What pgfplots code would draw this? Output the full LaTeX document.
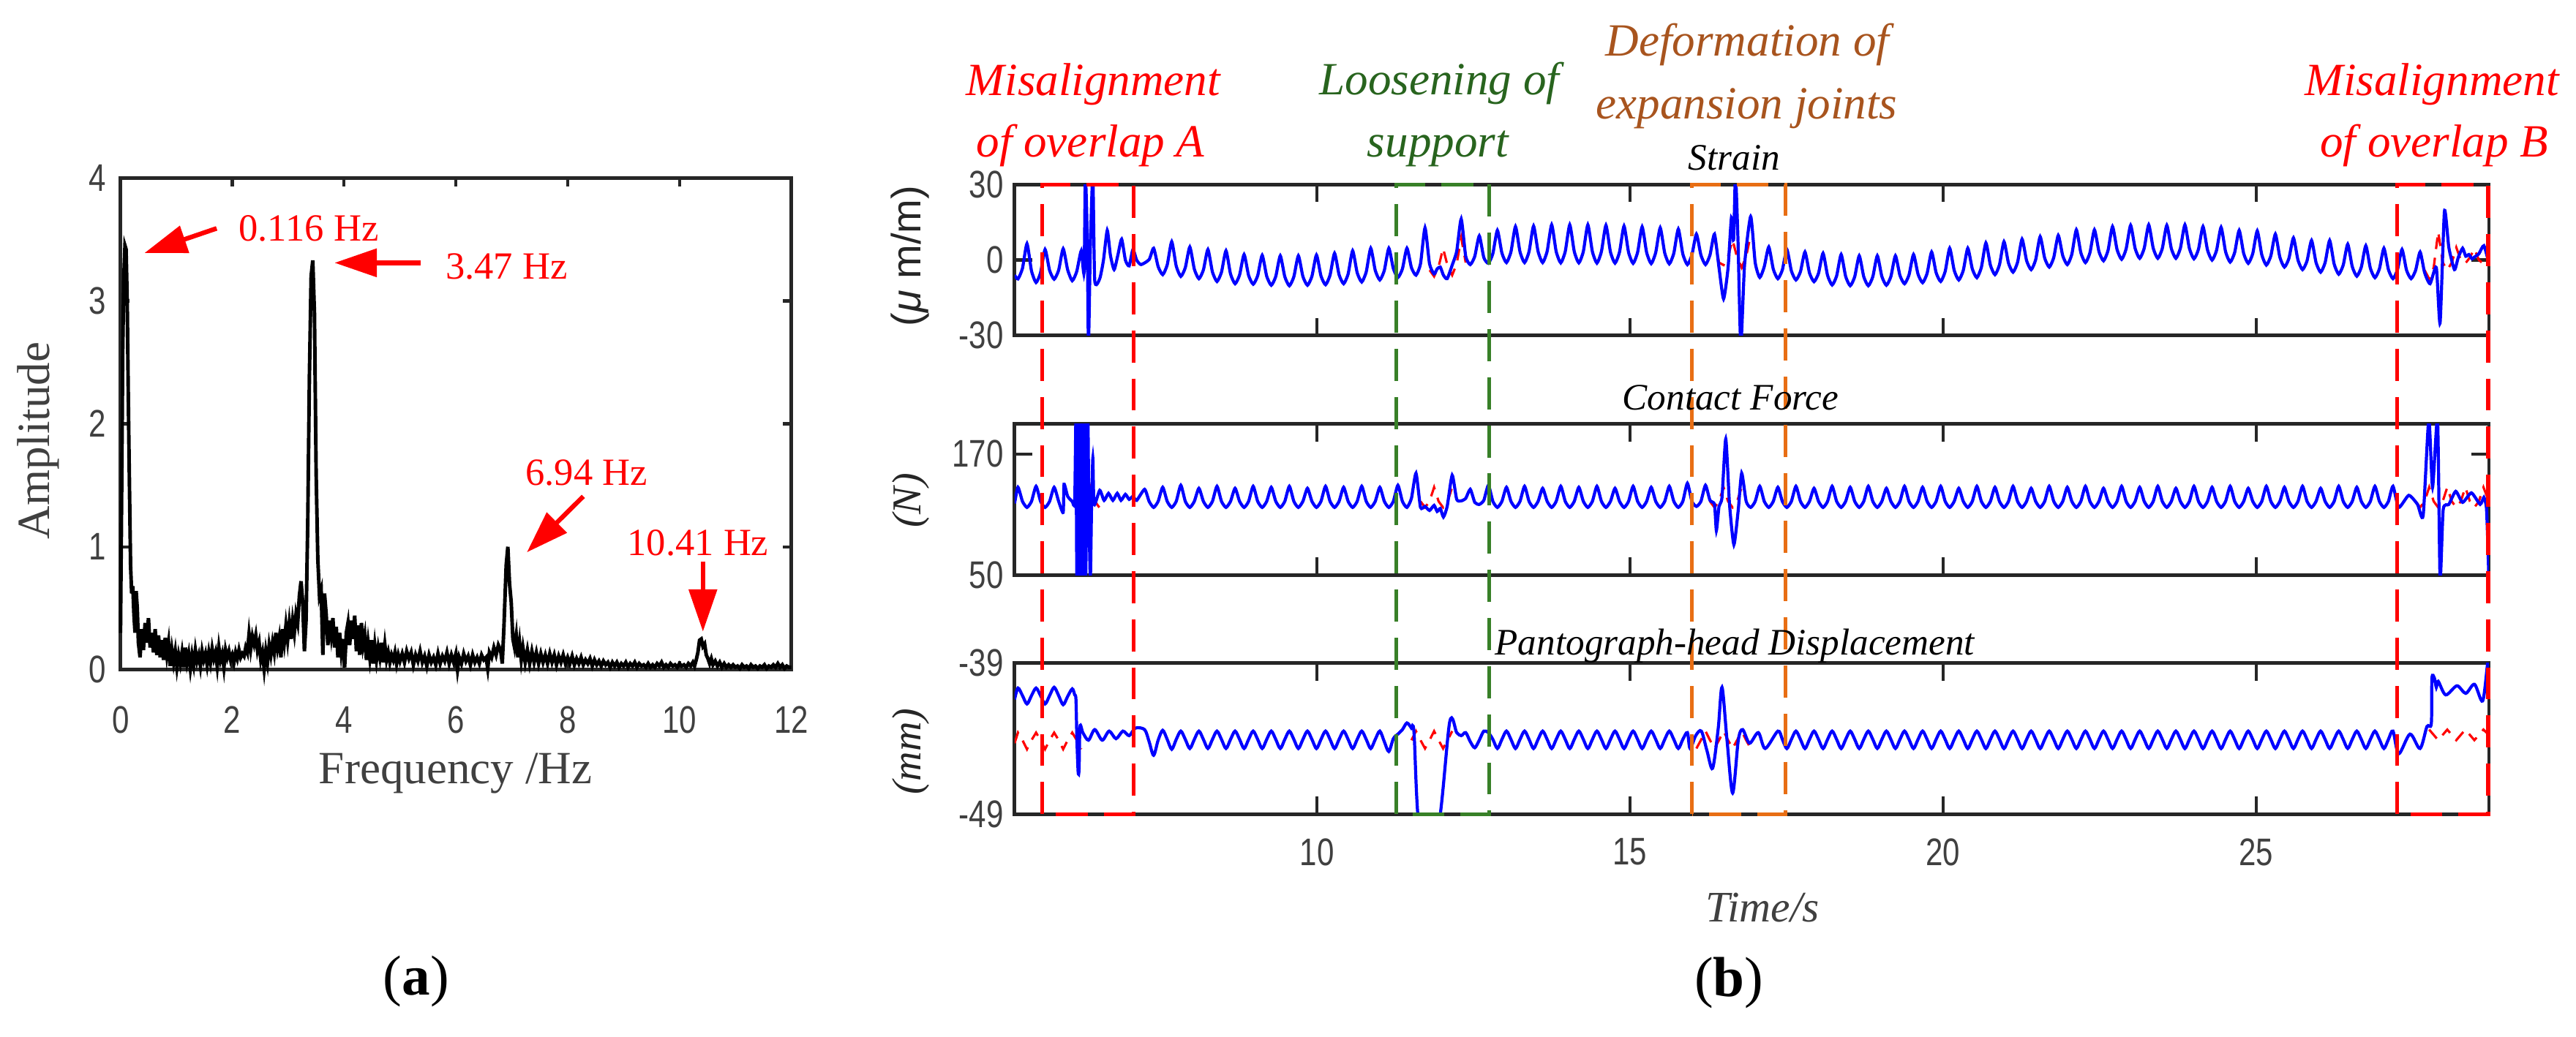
\documentclass[border=0pt]{standalone}
\usepackage{fontspec}
\setmainfont{Liberation Serif}
\setsansfont{Liberation Sans}
\newfontfamily\tickfont[FakeStretch=0.8]{Liberation Sans}
\usepackage{pgfplots}
\usepackage{pgfplotstable}
\pgfplotsset{compat=1.18}
\usetikzlibrary{arrows.meta}

\definecolor{axgray}{RGB}{38,38,38}
\definecolor{labgray}{RGB}{64,64,64}
\definecolor{boxgreen}{RGB}{56,128,40}
\definecolor{txtgreen}{RGB}{40,100,30}
\definecolor{boxorange}{RGB}{232,110,20}
\definecolor{txtbrown}{RGB}{168,84,30}

% time signals: strain (s), contact force (f), pantograph-head displacement (d)
\pgfplotstableread{
t s f d
5.170 -6.0 121 -41.4
5.224 -7.5 137 -40.65
5.296 -3.3 123 -41.15
5.368 6.5 117 -41.7
5.440 -4.3 123 -41.15
5.513 -8.9 138 -40.65
5.585 -5.0 123 -41.15
5.657 4.2 117 -41.7
5.729 -4.1 123 -41.15
5.802 -7.6 137 -40.6
5.874 -4.0 123 -41.15
5.946 4.5 112 -41.75
5.960 nan 140 nan
6.018 -3.9 128 -41.2
6.091 -8.2 123 -40.7
6.130 nan 122 -41.1
6.150 nan 205 -41.4
6.163 -4.5 nan nan
6.165 nan 45 -44.0
6.185 nan nan -46.2
6.190 nan 205 nan
6.200 nan nan -46.0
6.205 nan 45 nan
6.215 nan nan -43.2
6.235 3.7 nan nan
6.240 nan 205 nan
6.255 nan 45 nan
6.260 nan nan -43.6
6.280 -5.0 nan nan
6.290 nan 205 nan
6.300 34 nan nan
6.305 nan 45 nan
6.330 10 nan nan
6.340 nan 205 nan
6.350 -34 nan -44.1
6.355 nan 120 nan
6.380 5 45 nan
6.400 nan 120 nan
6.420 34 166 nan
6.440 nan 120 nan
6.450 -8 nan -43.4
6.530 -7.4 134 nan
6.570 nan nan -44.1
6.590 0 nan nan
6.600 nan 124 nan
6.650 11.8 nan nan
6.670 nan 131 nan
6.680 nan nan -43.5
6.700 2 nan nan
6.740 nan 124 nan
6.760 -3.8 nan nan
6.790 nan nan -44.0
6.810 nan 131 nan
6.820 2 nan nan
6.870 nan 124 nan
6.880 8.3 nan nan
6.900 nan nan -43.5
6.940 0 130 nan
7.000 -2.3 125 -43.8
7.060 4.2 128 nan
7.100 nan nan -43.3
7.120 0 124 nan
7.190 -1.8 nan nan
7.247 nan 135 -43.4
7.319 0.2 123 -44.2
7.391 4.7 117 -45.1
7.463 -2.6 123 -44.1
7.536 -5.8 137 -43.45
7.608 -1.9 123 -44.05
7.680 7.3 117 -44.7
7.752 -2.4 123 -44.05
7.825 -6.5 139 -43.5
7.897 -3.0 123 -44.05
7.969 5.2 117 -44.65
8.041 -3.6 123 -44.05
8.114 -7.4 136 -43.5
8.186 -3.9 123 -44.05
8.258 4.2 117 -44.65
8.330 -4.7 123 -44.05
8.403 -8.5 138 -43.5
8.475 -4.8 123 -44.05
8.547 3.7 117 -44.65
8.619 -5.5 123 -44.05
8.692 -9.4 136 -43.5
8.764 -5.9 123 -44.05
8.836 2.2 117 -44.65
8.908 -6.1 123 -44.05
8.981 -9.6 138 -43.5
9.053 -6.2 123 -44.05
9.125 1.9 117 -44.65
9.197 -6.4 123 -44.05
9.270 -10.0 137 -43.5
9.342 -6.5 123 -44.05
9.414 1.7 117 -44.65
9.486 -6.6 123 -44.05
9.559 -10.2 138 -43.5
9.631 -6.6 123 -44.05
9.703 1.7 117 -44.65
9.775 -6.5 123 -44.05
9.848 -10.0 136 -43.5
9.920 -6.4 123 -44.05
9.992 2.0 117 -44.65
10.064 -6.3 123 -44.05
10.137 -9.8 138 -43.5
10.209 -6.0 123 -44.05
10.281 2.7 117 -44.65
10.353 -5.8 123 -44.05
10.426 -9.4 137 -43.5
10.498 -5.5 123 -44.05
10.570 3.7 117 -44.65
10.642 -5.0 123 -44.05
10.715 -8.7 138 -43.5
10.787 -4.7 123 -44.05
10.859 4.7 117 -44.65
10.931 -4.1 123 -44.05
11.004 -7.9 137 -43.5
11.076 -4.1 123 -44.2
11.148 4.7 117 -44.85
11.220 -3.4 123 -44.0
11.293 -6.9 139 -43.7
11.365 -3.5 123 -43.4
11.437 4.7 117 -42.96
11.509 -3.0 126 -43.3
11.550 nan nan -43.6
11.582 -6.0 151 nan
11.640 nan nan -50
11.654 -1.5 117 nan
11.726 12.8 118 nan
11.798 -1.5 114 nan
11.871 -5.5 119 nan
11.920 -3.5 113 nan
11.930 nan nan -50
11.970 -2.8 116 nan
12.020 -6.0 107.5 nan
12.080 -7.4 118 nan
12.120 nan nan -42.9
12.160 -2.0 149 nan
12.232 3.5 125 -43.6
12.304 16.3 123.5 -43.8
12.376 1.5 126 -43.6
12.449 -1.8 135 -44.2
12.521 1.5 122 -44.6
12.593 9.6 120 -44.1
12.665 1.0 124 -43.5
12.738 -1.3 139 -43.6
12.810 2.6 123 -44.05
12.882 11.8 117 -44.65
12.954 2.8 123 -44.05
13.027 -1.0 137 -43.5
13.099 3.3 123 -44.05
13.171 13.3 117 -44.65
13.243 3.3 123 -44.05
13.316 -1.0 138 -43.5
13.388 3.4 123 -44.05
13.460 13.5 117 -44.65
13.532 3.4 123 -44.05
13.605 -1.0 136 -43.5
13.677 3.5 123 -44.05
13.749 14.0 117 -44.65
13.821 3.4 123 -44.05
13.894 -1.1 138 -43.5
13.966 3.4 123 -44.05
14.038 14.0 117 -44.65
14.110 3.4 123 -44.05
14.183 -1.1 137 -43.5
14.255 3.4 123 -44.05
14.327 14.0 117 -44.65
14.399 3.4 123 -44.05
14.472 -1.2 138 -43.5
14.544 3.4 123 -44.05
14.616 13.8 117 -44.65
14.688 3.2 123 -44.05
14.761 -1.2 136 -43.5
14.833 3.2 123 -44.05
14.905 13.5 117 -44.65
14.977 3.1 123 -44.05
15.050 -1.3 138 -43.5
15.122 3.1 123 -44.05
15.194 13.2 117 -44.65
15.266 3.0 123 -44.05
15.339 -1.4 137 -43.5
15.411 3.0 123 -44.05
15.483 12.8 117 -44.65
15.555 2.8 123 -44.05
15.628 -1.5 138 -43.5
15.700 2.7 123 -44.05
15.772 12.3 117 -44.65
15.844 2.4 123 -44.05
15.917 -1.8 141 -43.6
15.960 nan nan -44.65
15.989 2.0 123 nan
16.050 nan nan -43.8
16.061 10.3 118 nan
16.133 2.0 123 nan
16.140 nan nan -43.5
16.206 -1.8 139 nan
16.230 nan nan -44.8
16.278 2.0 124 nan
16.320 nan nan -45.96
16.350 10.3 120 nan
16.380 nan 94 nan
16.410 nan nan -43.3
16.422 -3.0 118 nan
16.470 nan 127 -40.6
16.495 -15.4 nan nan
16.530 nan 185 nan
16.550 nan nan -44.1
16.567 -3.0 nan nan
16.590 nan 120 nan
16.620 16.8 nan nan
16.640 nan nan -47.6
16.655 8 nan nan
16.660 nan 80 nan
16.685 34 nan nan
16.725 8 nan nan
16.730 nan 115 -44.1
16.770 -34 nan nan
16.784 nan 151 nan
16.800 nan nan -43.4
16.830 -2 nan nan
16.856 nan 123 nan
16.910 nan nan -44.3
16.928 17.3 117 nan
17.000 -1.0 123 nan
17.050 nan nan -43.6
17.073 -6.9 138 nan
17.145 -2.6 123 nan
17.160 nan nan -44.65
17.217 5.2 117 nan
17.289 -3.6 123 nan
17.362 -7.4 137 -43.5
17.434 -3.9 123 -44.05
17.506 4.2 117 -44.65
17.578 -4.3 123 -44.05
17.651 -7.9 138 -43.5
17.723 -4.6 123 -44.05
17.795 3.2 117 -44.65
17.867 -5.1 123 -44.05
17.940 -8.6 136 -43.5
18.012 -5.2 123 -44.05
18.084 2.7 117 -44.65
18.156 -6.1 123 -44.05
18.229 -9.9 138 -43.5
18.301 -6.3 123 -44.05
18.373 2.2 117 -44.65
18.445 -6.5 123 -44.05
18.518 -10.2 137 -43.5
18.590 -6.6 123 -44.05
18.662 1.7 117 -44.65
18.734 -6.6 123 -44.05
18.807 -10.2 138 -43.5
18.879 -6.6 123 -44.05
18.951 1.7 117 -44.65
19.023 -6.5 123 -44.05
19.096 -10.0 136 -43.5
19.168 -6.5 123 -44.05
19.240 1.7 117 -44.65
19.312 -6.1 123 -44.05
19.385 -9.4 138 -43.5
19.457 -5.9 123 -44.05
19.529 2.2 117 -44.65
19.601 -5.6 123 -44.05
19.674 -9.0 137 -43.5
19.746 -5.3 123 -44.05
19.818 3.2 117 -44.65
19.890 -5.0 123 -44.05
19.963 -8.5 138 -43.5
20.035 -4.5 123 -44.05
20.107 4.7 117 -44.65
20.179 -4.1 123 -44.05
20.252 -7.9 136 -43.5
20.324 -4.1 123 -44.05
20.396 4.7 117 -44.65
20.468 -3.5 123 -44.05
20.541 -7.0 138 -43.5
20.613 -2.9 123 -44.05
20.685 6.8 117 -44.65
20.757 -2.0 123 -44.05
20.830 -5.8 137 -43.5
20.902 -1.9 123 -44.05
20.974 7.3 117 -44.65
21.046 -1.2 123 -44.05
21.119 -4.8 138 -43.5
21.191 -0.9 123 -44.05
21.263 8.3 117 -44.65
21.335 -0.2 123 -44.05
21.408 -3.8 136 -43.5
21.480 0.1 123 -44.05
21.552 9.3 117 -44.65
21.624 0.8 123 -44.05
21.697 -2.8 138 -43.5
21.769 1.0 123 -44.05
21.841 9.8 117 -44.65
21.913 1.7 123 -44.05
21.986 -1.8 137 -43.5
22.058 2.3 123 -44.05
22.130 12.0 117 -44.65
22.202 2.9 123 -44.05
22.275 -1.0 138 -43.5
22.347 2.9 123 -44.05
22.419 12.0 117 -44.65
22.491 3.4 123 -44.05
22.564 -0.3 136 -43.5
22.636 3.8 123 -44.05
22.708 13.3 117 -44.65
22.780 4.2 123 -44.05
22.853 0.3 138 -43.5
22.925 4.4 123 -44.05
22.997 13.8 117 -44.65
23.069 4.6 123 -44.05
23.142 0.7 137 -43.5
23.214 4.7 123 -44.05
23.286 14.0 117 -44.65
23.358 4.7 123 -44.05
23.431 0.7 138 -43.5
23.503 4.6 123 -44.05
23.575 13.8 117 -44.65
23.647 4.6 123 -44.05
23.720 0.7 136 -43.5
23.792 4.7 123 -44.05
23.864 14.0 117 -44.65
23.936 4.6 123 -44.05
24.009 0.5 138 -43.5
24.081 4.3 123 -44.05
24.153 13.3 117 -44.65
24.225 4.0 123 -44.05
24.298 0.0 137 -43.5
24.370 3.9 123 -44.05
24.442 13.0 117 -44.65
24.514 3.3 123 -44.05
24.587 -0.8 138 -43.5
24.659 3.0 123 -44.05
24.731 11.8 117 -44.65
24.803 2.6 123 -44.05
24.876 -1.3 136 -43.5
24.948 2.6 123 -44.05
25.020 11.6 117 -44.65
25.092 2.1 123 -44.05
25.165 -2.0 138 -43.5
25.237 1.7 123 -44.05
25.309 10.3 117 -44.65
25.381 1.1 123 -44.05
25.454 -2.8 137 -43.5
25.526 0.7 123 -44.05
25.598 8.8 117 -44.65
25.670 0.0 123 -44.05
25.743 -3.8 138 -43.5
25.815 -0.3 123 -44.05
25.887 7.8 117 -44.65
25.959 -1.0 123 -44.05
26.032 -4.8 136 -43.5
26.104 -1.0 123 -44.05
26.176 7.8 117 -44.65
26.248 -1.6 123 -44.05
26.321 -5.6 138 -43.5
26.393 -2.0 123 -44.05
26.465 6.3 117 -44.65
26.537 -2.6 123 -44.05
26.610 -6.4 137 -43.5
26.682 -2.8 123 -44.05
26.754 5.7 117 -44.65
26.826 -3.2 123 -44.05
26.899 -7.0 138 -43.5
26.971 -3.5 123 -44.05
27.043 4.7 117 -44.65
27.115 -3.8 123 -44.05
27.188 -7.4 138 -43.5
27.260 -3.8 nan nan
27.280 nan 117 -45.0
27.332 4.2 nan nan
27.404 -4.0 nan nan
27.440 nan 129 nan
27.460 nan nan -43.7
27.477 -7.4 nan nan
27.549 -4.1 nan nan
27.580 nan 120 nan
27.620 nan nan -44.65
27.621 3.2 nan nan
27.670 nan 109 nan
27.693 -5.0 nan nan
27.730 nan nan -43.2
27.760 nan 205 nan
27.780 -9.4 nan nan
27.800 nan nan -43.0
27.810 nan nan -40.0
27.820 nan 137 nan
27.850 nan nan -40.0
27.880 -3.0 nan -40.6
27.900 nan 205 nan
27.910 nan nan -40.2
27.940 -25 45 nan
27.990 nan 115 nan
28.010 19.4 nan nan
28.030 nan nan -41.1
28.080 5.0 120 nan
28.170 -3.8 nan nan
28.190 nan 133 nan
28.210 nan nan -40.5
28.230 1.0 nan nan
28.300 4.7 122 nan
28.350 1.5 nan -41.0
28.400 2.2 nan nan
28.440 nan 131.5 nan
28.450 0.5 nan nan
28.490 1.2 nan -40.4
28.560 2.5 nan nan
28.580 nan 120 nan
28.620 nan nan -41.5
28.640 5.7 127 nan
28.680 nan 117 nan
28.700 nan 86 -39.0
28.720 -1.3 45 -39.0
}\sig

\pgfplotsset{
  bpanel/.style={scale only axis, width=101mm, height=10.35mm, anchor=south west,
    xmin=5.17, xmax=28.72, xtick={10,15,20,25}, xticklabels={},
    tick align=inside, major tick length=1.2mm,
    axis line style={axgray, line width=0.7pt},
    tick style={axgray, line width=0.6pt},
    ticklabel style={font=\tickfont\fontsize{7.5}{8}\selectfont, text=labgray},
    yticklabel style={xshift=0.48mm},
    xticklabel style={yshift=-0.42mm}},
  blueline/.style={blue, line width=0.6pt, smooth, tension=0.35},
  redline/.style={red, line width=0.45pt, dash pattern=on 0.8mm off 0.6mm},
}

\begin{document}
\begin{tikzpicture}[x=1mm,y=1mm]
\path (0,0) rectangle (176.05,71.05);

% ---------- (a) spectrum ----------
\begin{axis}[at={(8.05mm,25.15mm)}, anchor=south west, scale only axis,
  width=45.95mm, height=33.7mm, xmin=0, xmax=12, ymin=0, ymax=4,
  xtick={0,2,...,12}, ytick={0,1,2,3,4},
  xticklabels={0,2,4,6,8,10,12}, yticklabels={0,1,2,3,4},
  tick align=inside, major tick length=0.6mm,
  axis line style={axgray, line width=0.7pt},
  tick style={axgray, line width=0.6pt},
  ticklabel style={font=\tickfont\fontsize{7.5}{8}\selectfont, text=labgray},
  xticklabel style={yshift=-1.27mm}, yticklabel style={xshift=0.23mm},
  clip=false]
\addplot[black, line width=0.7pt] coordinates {
(0.00,0.30)(0.02,1.40)(0.04,2.60)(0.06,3.20)(0.08,3.45)(0.10,3.42)(0.12,3.00)(0.14,2.20)
(0.16,1.50)(0.18,0.85)(0.20,0.62)(0.22,0.68)(0.24,0.45)(0.26,0.30)(0.28,0.64)(0.30,0.50)
(0.32,0.22)(0.35,0.10)(0.38,0.33)(0.41,0.16)(0.44,0.38)(0.47,0.22)(0.50,0.42)(0.53,0.18)
(0.56,0.30)(0.59,0.14)(0.62,0.33)(0.65,0.12)(0.68,0.28)(0.71,0.10)(0.74,0.24)(0.77,0.08)
(0.80,0.26)(0.83,0.12)(0.86,0.22)(0.89,0.03)(0.92,0.16)(0.95,0.06)(0.98,0.15)(1.01,0.02)
(1.04,0.12)(1.07,0.05)(1.10,0.14)(1.13,0.02)(1.16,0.18)(1.19,0.06)(1.22,0.13)(1.25,0.01)
(1.28,0.12)(1.31,0.04)(1.34,0.16)(1.37,0.07)(1.40,0.12)(1.43,0.03)(1.46,0.15)(1.49,0.08)
(1.52,0.13)(1.55,0.04)(1.58,0.14)(1.61,0.06)(1.64,0.17)(1.67,0.09)(1.70,0.14)(1.73,0.03)
(1.76,0.18)(1.79,0.08)(1.82,0.13)(1.85,0.02)(1.88,0.16)(1.91,0.10)(1.94,0.15)(1.97,0.08)
(2.00,0.12)(2.03,0.06)(2.06,0.14)(2.09,0.09)(2.12,0.16)(2.15,0.10)(2.18,0.13)(2.21,0.11)
(2.24,0.18)(2.27,0.14)(2.30,0.29)(2.33,0.17)(2.36,0.27)(2.39,0.21)(2.42,0.28)(2.45,0.16)
(2.48,0.22)(2.51,0.08)(2.54,0.14)(2.57,0.01)(2.60,0.15)(2.63,0.06)(2.66,0.20)(2.69,0.12)
(2.72,0.22)(2.75,0.14)(2.78,0.30)(2.81,0.18)(2.84,0.26)(2.87,0.10)(2.90,0.33)(2.93,0.22)
(2.96,0.36)(2.99,0.24)(3.02,0.38)(3.05,0.25)(3.08,0.40)(3.11,0.30)(3.14,0.45)(3.17,0.38)
(3.20,0.60)(3.23,0.72)(3.26,0.55)(3.29,0.15)(3.32,0.40)(3.35,1.20)(3.38,2.40)(3.41,3.20)
(3.44,3.33)(3.47,2.90)(3.50,1.60)(3.53,0.90)(3.56,0.60)(3.59,0.65)(3.62,0.12)(3.65,0.62)
(3.68,0.45)(3.71,0.20)(3.74,0.40)(3.77,0.28)(3.80,0.42)(3.83,0.18)(3.86,0.35)(3.89,0.10)
(3.92,0.30)(3.95,0.14)(3.98,0.25)(4.01,0.02)(4.04,0.30)(4.07,0.38)(4.10,0.20)(4.13,0.40)
(4.16,0.25)(4.19,0.44)(4.22,0.15)(4.25,0.36)(4.28,0.12)(4.31,0.38)(4.34,0.20)(4.37,0.28)
(4.40,0.08)(4.43,0.22)(4.46,0.10)(4.49,0.24)(4.52,0.05)(4.55,0.20)(4.58,0.08)(4.61,0.18)
(4.64,0.10)(4.67,0.22)(4.70,0.06)(4.73,0.20)(4.76,0.08)(4.79,0.14)(4.82,0.06)(4.85,0.12)
(4.88,0.08)(4.91,0.14)(4.94,0.05)(4.97,0.12)(5.00,0.07)(5.04,0.13)(5.08,0.06)(5.12,0.15)
(5.16,0.09)(5.20,0.14)(5.24,0.04)(5.28,0.12)(5.32,0.07)(5.36,0.15)(5.40,0.06)(5.44,0.11)
(5.48,0.03)(5.52,0.12)(5.56,0.06)(5.60,0.10)(5.64,0.04)(5.68,0.13)(5.72,0.05)(5.76,0.11)
(5.80,0.07)(5.84,0.14)(5.88,0.05)(5.92,0.12)(5.96,0.06)(6.00,0.13)(6.03,0.00)(6.06,0.10)
(6.10,0.05)(6.14,0.13)(6.18,0.07)(6.22,0.11)(6.26,0.04)(6.30,0.12)(6.34,0.06)(6.38,0.10)
(6.42,0.05)(6.46,0.12)(6.50,0.08)(6.54,0.10)(6.57,0.01)(6.60,0.14)(6.64,0.10)(6.68,0.18)
(6.72,0.12)(6.76,0.20)(6.80,0.16)(6.83,0.05)(6.86,0.35)(6.90,0.85)(6.93,1.00)(6.96,0.70)
(6.99,0.55)(7.02,0.25)(7.05,0.18)(7.08,0.28)(7.11,0.10)(7.14,0.22)(7.17,0.08)(7.20,0.18)
(7.24,0.06)(7.28,0.16)(7.32,0.05)(7.36,0.15)(7.40,0.06)(7.44,0.14)(7.48,0.05)(7.52,0.13)
(7.56,0.06)(7.60,0.12)(7.64,0.05)(7.68,0.13)(7.72,0.06)(7.76,0.12)(7.80,0.04)(7.84,0.11)
(7.88,0.06)(7.92,0.12)(7.96,0.05)(8.00,0.10)(8.04,0.05)(8.08,0.11)(8.12,0.04)(8.16,0.09)
(8.20,0.05)(8.24,0.10)(8.28,0.04)(8.32,0.08)(8.36,0.05)(8.40,0.09)(8.44,0.03)(8.48,0.08)
(8.52,0.04)(8.56,0.07)(8.60,0.03)(8.64,0.07)(8.68,0.04)(8.72,0.06)(8.76,0.02)(8.80,0.06)
(8.84,0.03)(8.88,0.06)(8.92,0.02)(8.96,0.05)(9.00,0.03)(9.04,0.06)(9.08,0.02)(9.12,0.05)
(9.16,0.03)(9.20,0.06)(9.24,0.02)(9.28,0.05)(9.32,0.03)(9.36,0.04)(9.40,0.02)(9.44,0.05)
(9.48,0.02)(9.52,0.04)(9.56,0.02)(9.60,0.05)(9.64,0.03)(9.68,0.06)(9.72,0.02)(9.76,0.04)
(9.80,0.02)(9.84,0.05)(9.88,0.03)(9.92,0.04)(9.96,0.02)(10.00,0.05)(10.04,0.03)(10.08,0.04)
(10.12,0.02)(10.16,0.05)(10.20,0.03)(10.24,0.06)(10.27,0.03)(10.30,0.08)(10.33,0.14)(10.36,0.24)
(10.39,0.25)(10.42,0.19)(10.45,0.21)(10.48,0.12)(10.51,0.09)(10.54,0.05)(10.57,0.09)(10.60,0.04)
(10.64,0.07)(10.68,0.03)(10.72,0.06)(10.76,0.02)(10.80,0.05)(10.84,0.02)(10.88,0.04)(10.92,0.02)
(10.96,0.04)(11.00,0.02)(11.04,0.03)(11.08,0.01)(11.12,0.04)(11.16,0.02)(11.20,0.03)(11.24,0.01)
(11.28,0.04)(11.32,0.02)(11.36,0.03)(11.40,0.01)(11.44,0.03)(11.48,0.02)(11.52,0.04)(11.56,0.01)
(11.60,0.03)(11.64,0.02)(11.68,0.04)(11.72,0.02)(11.76,0.05)(11.80,0.02)(11.84,0.04)(11.88,0.01)
(11.92,0.03)(11.96,0.02)(12.00,0.02)
};
\begin{scope}[red, line width=0.9pt, -{Triangle[length=2.9mm,width=1.9mm]}]
\draw (axis cs:1.72,3.59) -- (axis cs:0.43,3.39);
\draw (axis cs:5.37,3.31) -- (axis cs:3.83,3.31);
\draw (axis cs:8.28,1.41) -- (axis cs:7.27,0.955);
\draw (axis cs:10.42,0.88) -- (axis cs:10.42,0.31);
\end{scope}
\begin{scope}[every node/.style={text=red, anchor=west, inner sep=0pt, font=\rmfamily\fontsize{7.5}{8}\selectfont}]
\node at (axis cs:2.10,3.59) {0.116 Hz};
\node at (axis cs:5.80,3.28) {3.47 Hz};
\node at (axis cs:7.23,1.60) {6.94 Hz};
\node at (axis cs:9.05,1.03) {10.41 Hz};
\end{scope}
\end{axis}

\node[rotate=90, text=labgray, font=\rmfamily\fontsize{9}{10}\selectfont] at (2.4,40.85) {Amplitude};
\node[anchor=base, text=labgray, font=\rmfamily\fontsize{9}{10}\selectfont] at (31.0,17.35) {Frequency /Hz};
\node[font=\rmfamily\fontsize{11}{12}\selectfont] at (28.3,3.8) {(\textbf{a})};

% ---------- (b) strain ----------
\begin{axis}[bpanel, at={(69.3mm,48.05mm)}, ymin=-30, ymax=30,
  ytick={-30,0,30}, yticklabels={-30,0,30}]
\addplot[redline] coordinates {(11.80,-4)(11.871,-6.5)(11.943,-2.6)(12.015,4.7)(12.087,-2.4)(12.160,-6.0)(12.232,-1.5)(12.304,8.8)(12.376,-1.0)};
\addplot[redline] coordinates {(16.350,9)(16.422,-1)(16.495,-2.0)(16.567,1.5)(16.639,8)(16.711,1)(16.784,-3)(16.856,1.5)(16.928,10)};
\addplot[redline] coordinates {(27.693,-4)(27.766,-7.5)(27.838,-3)(27.910,11.3)(27.982,-1)(28.055,-4)(28.127,-1)(28.199,5)(28.271,0)(28.344,-1.3)(28.416,1)(28.488,4.5)(28.560,0)(28.633,-1.5)(28.72,1)};
\addplot[blueline] table[x=t, y=s] {\sig};
\end{axis}

% ---------- (b) contact force ----------
\begin{axis}[bpanel, at={(69.3mm,31.65mm)}, ymin=50, ymax=200,
  ytick={50,170}, yticklabels={50,170}]
\addplot[redline] coordinates {(6.163,123)(6.235,117)(6.307,123)(6.380,137)(6.452,123)(6.524,117)};
\addplot[redline] coordinates {(11.654,123)(11.726,117)(11.798,123)(11.871,137)(11.943,123)(12.015,117)(12.087,123)(12.160,137)};
\addplot[redline] coordinates {(16.278,123)(16.350,117)(16.422,123)(16.495,137)(16.567,123)(16.639,117)(16.711,123)(16.784,137)};
\addplot[redline] coordinates {(27.549,123)(27.621,117)(27.693,123)(27.766,137)(27.838,123)(27.910,117)(27.982,123)(28.055,137)(28.127,123)(28.199,117)(28.271,123)(28.344,137)(28.416,123)(28.488,117)(28.560,123)(28.633,137)(28.72,123)};
\addplot[blueline] table[x=t, y=f] {\sig};
\end{axis}

% ---------- (b) pantograph-head displacement ----------
\begin{axis}[bpanel, at={(69.3mm,15.25mm)}, ymin=-49, ymax=-39,
  ytick={-49,-39}, yticklabels={-49,-39}, xticklabels={10,15,20,25}]
\addplot[redline] coordinates {(5.170,-44.3)(5.224,-43.6)(5.296,-44.1)(5.368,-44.7)(5.440,-44.1)(5.513,-43.6)(5.585,-44.1)(5.657,-44.7)(5.729,-44.1)(5.802,-43.6)(5.874,-44.1)(5.946,-44.7)(6.018,-44.1)(6.091,-43.6)(6.163,-44.1)(6.235,-44.7)};
\addplot[redline] coordinates {(11.509,-44.1)(11.582,-43.5)(11.654,-44.1)(11.726,-44.65)(11.798,-44.1)(11.871,-43.5)(11.943,-44.1)(12.015,-44.65)(12.087,-44.1)(12.160,-43.5)};
\addplot[redline] coordinates {(16.061,-44.65)(16.133,-44.1)(16.206,-43.5)(16.278,-44.1)(16.350,-44.65)(16.422,-44.1)(16.495,-43.5)(16.567,-44.1)(16.639,-44.65)(16.711,-44.1)(16.784,-43.5)(16.856,-44.1)(16.928,-44.65)(17.000,-44.5)};
\addplot[redline] coordinates {(27.766,-43.4)(27.838,-43.75)(27.910,-44.1)(27.982,-43.75)(28.055,-43.4)(28.127,-43.75)(28.199,-44.1)(28.271,-43.75)(28.344,-43.4)(28.416,-43.75)(28.488,-44.1)(28.560,-43.75)(28.633,-43.4)(28.720,-43.75)};
\addplot[blueline, tension=0.5] table[x=t, y=d] {\sig};
\end{axis}

% ---------- fault windows ----------
\begin{axis}[at={(69.3mm,15.25mm)}, anchor=south west, scale only axis,
  width=101mm, height=43.15mm, xmin=5.17, xmax=28.72, ymin=0, ymax=1,
  hide axis, clip=false]
\begin{scope}[line width=0.75pt, dash pattern=on 2.2mm off 1.1mm]
\draw[red] (axis cs:5.61,0) rectangle (axis cs:7.07,1);
\draw[boxgreen] (axis cs:11.27,0) rectangle (axis cs:12.75,1);
\draw[boxorange] (axis cs:15.99,0) rectangle (axis cs:17.48,1);
\draw[red] (axis cs:27.25,0) rectangle (axis cs:28.71,1);
\end{scope}
\end{axis}

% titles and labels of (b)
\begin{scope}[every node/.style={anchor=base, font=\rmfamily\itshape\fontsize{7.3}{8}\selectfont, text=black}]
\node at (118.6,59.4) {Strain};
\node at (118.35,42.95) {Contact Force};
\node at (118.65,26.15) {Pantograph-head Displacement};
\end{scope}
\begin{scope}[every node/.style={anchor=base, font=\rmfamily\itshape\fontsize{9}{10}\selectfont}]
\node[text=red] at (74.7,64.5) {Misalignment};
\node[text=red] at (74.5,60.3) {of overlap A};
\node[text=txtgreen] at (98.4,64.55) {Loosening of};
\node[text=txtgreen] at (98.3,60.3) {support};
\node[text=txtbrown] at (119.5,67.2) {Deformation of};
\node[text=txtbrown] at (119.45,62.9) {expansion joints};
\node[text=red] at (166.4,64.5) {Misalignment};
\node[text=red] at (166.55,60.3) {of overlap B};
\end{scope}
\node[rotate=90, text=axgray, font=\sffamily\fontsize{8}{9}\selectfont] at (62.15,53.5) {(\textit{μ} m/m)};
\node[rotate=90, text=axgray, font=\rmfamily\itshape\fontsize{8}{9}\selectfont] at (62.2,36.75) {(N)};
\node[rotate=90, text=axgray, font=\rmfamily\itshape\fontsize{8}{9}\selectfont] at (62.2,19.55) {(mm)};
\node[text=labgray, font=\rmfamily\itshape\fontsize{8.5}{9}\selectfont] at (120.55,8.85) {Time/s};
\node[font=\rmfamily\fontsize{11}{12}\selectfont] at (118.25,3.7) {(\textbf{b})};
\end{tikzpicture}
\end{document}
